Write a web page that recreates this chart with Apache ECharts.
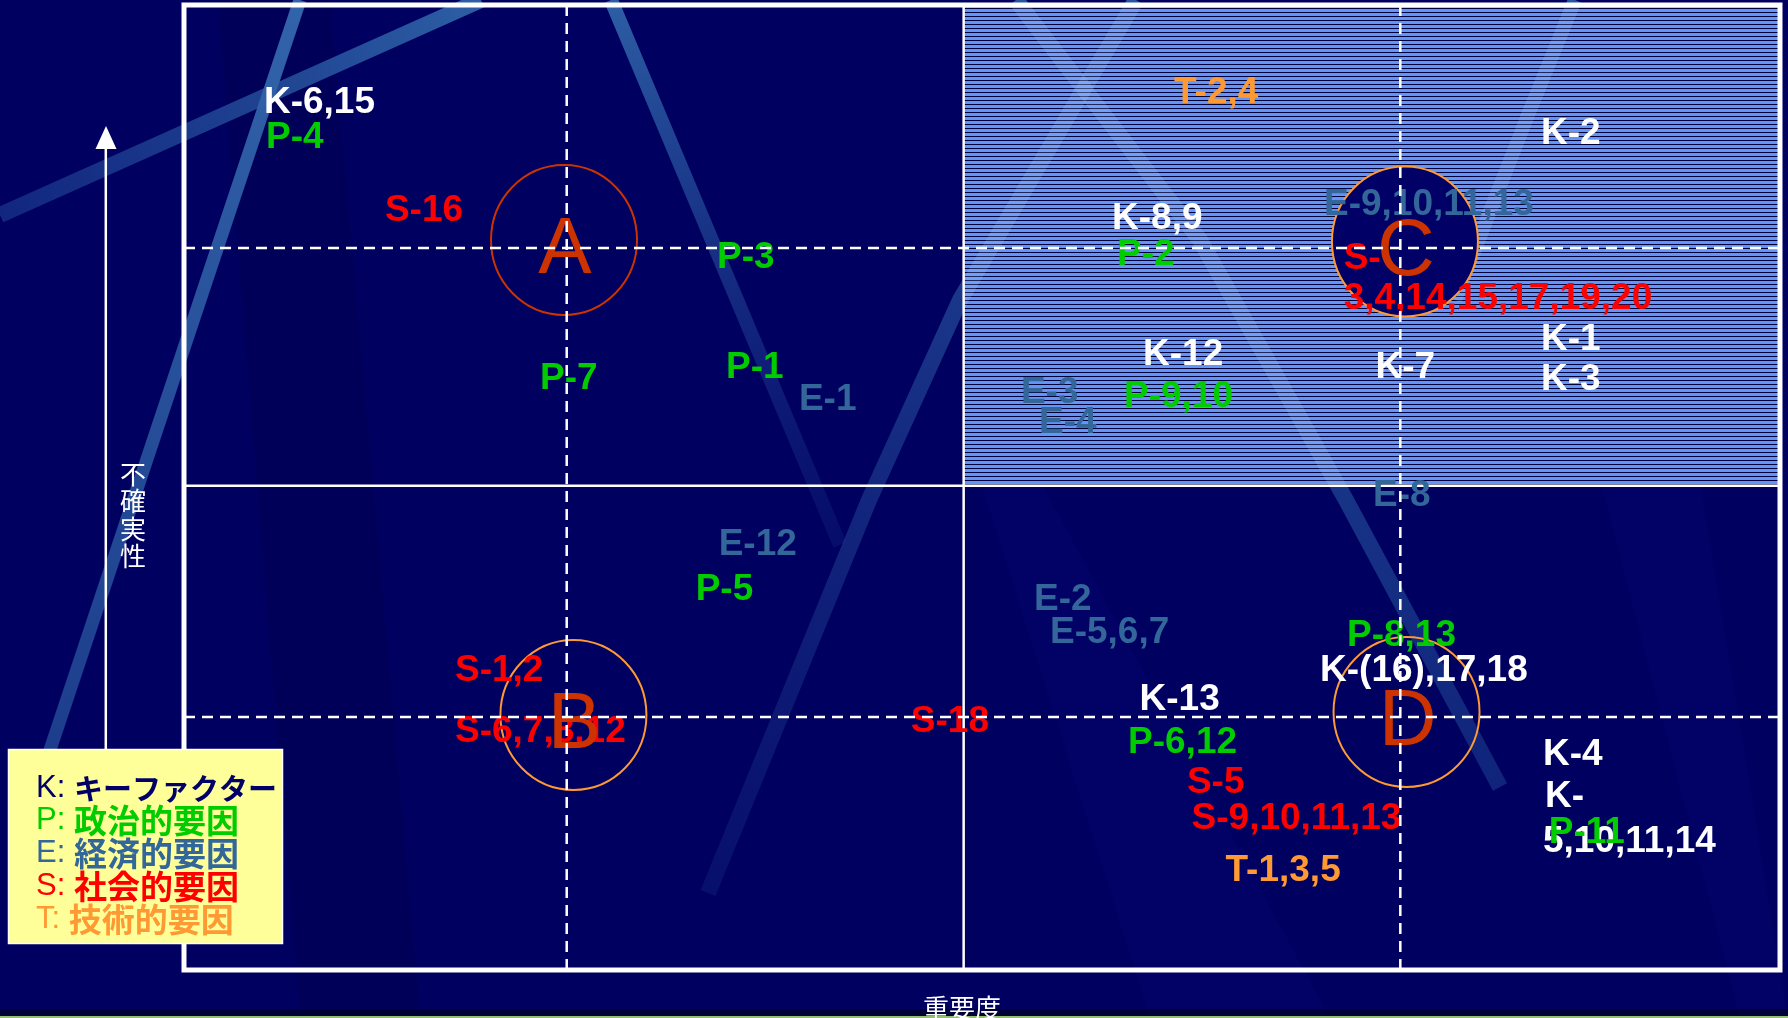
<!DOCTYPE html>
<html><head><meta charset="utf-8">
<script src="https://cdn.jsdelivr.net/npm/echarts/dist/echarts.min.js"></script>
<style>html,body{margin:0;padding:0;background:#000060;overflow:hidden}#c{width:1788px;height:1018px}</style>
</head><body><div id="c"></div>
<script>
// ---------------- data ----------------
const xAxisName = '重要度';
const yAxisName = '不確実性';
const categories = ['K', 'P', 'E', 'S', 'T'];
const categoryNames = ['キーファクター', '政治的要因', '経済的要因', '社会的要因', '技術的要因'];

// [重要度, 不確実性, label]
const kFactors = [
  [5.01, 90.16, 'K-6,15'], [58.15, 78.13, 'K-8,9'], [85.03, 86.94, 'K-2'],
  [60.09, 64.04, 'K-12'], [74.66, 62.69, 'K-7'], [85.03, 65.60, 'K-1'], [85.03, 61.45, 'K-3'],
  [71.18, 31.35, 'K-(16),17,18'], [59.87, 28.29, 'K-13'], [85.15, 22.64, 'K-4'],
  [85.28, 18.29, 'K-'], [85.15, 13.63, '5,10,11,14']
];
const pFactors = [
  [5.14, 86.53, 'P-4'], [33.40, 74.09, 'P-3'], [22.31, 61.55, 'P-7'], [33.96, 62.69, 'P-1'],
  [58.46, 74.40, 'P-2'], [58.90, 59.69, 'P-9,10'], [32.06, 39.69, 'P-5'],
  [72.87, 34.97, 'P-8,13'], [59.15, 23.83, 'P-6,12'], [85.51, 14.51, 'P-11']
];
const eFactors = [
  [38.53, 59.38, 'E-1'], [71.43, 79.64, 'E-9,10,11,13'], [52.44, 60.10, 'E-3'], [53.57, 56.99, 'E-4'],
  [74.50, 49.43, 'E-8'], [33.50, 44.40, 'E-12'], [53.26, 38.68, 'E-2'], [54.26, 35.23, 'E-5,6,7']
];
const sFactors = [
  [12.59, 79.02, 'S-16'], [72.66, 73.99, 'S-'], [72.66, 69.84, '3,4,14,15,17,19,20'],
  [16.98, 31.30, 'S-1,2'], [16.98, 24.97, 'S-6,7,8,12'], [45.54, 26.06, 'S-18'],
  [62.84, 19.69, 'S-5'], [63.13, 15.96, 'S-9,10,11,13']
];
const tFactors = [
  [62.03, 91.19, 'T-2,4'], [65.26, 10.62, 'T-1,3,5']
];
// scenario clusters: [重要度, 不確実性, name]
const clusters = [
  [23.81, 75.65, 'A'], [24.40, 26.42, 'B'], [76.50, 75.49, 'C'], [76.60, 26.74, 'D']
];
// quadrant dividers and cluster guides
const dividerX = [48.85];
const dividerY = [50.18];
const guideX = [23.98, 76.21];
const guideY = [74.82, 26.22];
// highlighted quadrant [x0, y0, x1, y1]
const highlightQuadrant = [[48.85, 50.18, 100, 100]];
const axisRange = [0, 100];

// ---------------- styles ----------------
const catColors = ['#ffffff', '#00cc00', '#336699', '#ff0000', '#ff9933'];
const legendColors = ['#000066', '#00cc00', '#336699', '#ff0000', '#ff9933'];
const LABEL_FONT = '"Liberation Sans", Arial, sans-serif';
const CJK_FONT = '"Noto Sans CJK JP", "Noto Sans", sans-serif';

// decorative background streaks (pixel space)
const bands = [
  {pts: [[0, 215], [481, 0]], w: 16, c0: 'rgba(25,55,140,0.7)', c1: 'rgba(45,95,165,1)'},
  {pts: [[300, 0], [40, 780]], w: 13, c0: 'rgba(50,100,170,1)', c1: 'rgba(35,75,150,0.8)'},
  {pts: [[611, 0], [840, 545]], w: 14, c0: 'rgba(45,95,165,1)', c1: 'rgba(20,40,130,0.3)'},
  {pts: [[708, 893], [869, 500], [960, 300], [1136, 0]], w: 16, c0: 'rgba(15,30,120,0.5)', c1: 'rgba(40,85,160,1)'},
  {pts: [[1016, 0], [1200, 240], [1346, 500], [1500, 787]], w: 16, c0: 'rgba(40,85,160,1)', c1: 'rgba(25,60,140,0.6)'},
  {pts: [[1575, 0], [1530, 110], [1455, 300]], w: 14, c0: 'rgba(40,85,160,1)', c1: 'rgba(40,85,160,0.8)'}
];

function bandPolygon(pts, w) {
  const L = [], R = [], n = pts.length;
  for (let i = 0; i < n; i++) {
    let nx = 0, ny = 0;
    if (i > 0) { const dx = pts[i][0] - pts[i-1][0], dy = pts[i][1] - pts[i-1][1], l = Math.hypot(dx, dy); nx += -dy / l; ny += dx / l; }
    if (i < n - 1) { const dx = pts[i+1][0] - pts[i][0], dy = pts[i+1][1] - pts[i][1], l = Math.hypot(dx, dy); nx += -dy / l; ny += dx / l; }
    const l = Math.hypot(nx, ny); nx = nx / l * w / 2; ny = ny / l * w / 2;
    L.push([pts[i][0] + nx, pts[i][1] + ny]); R.push([pts[i][0] - nx, pts[i][1] - ny]);
  }
  return L.concat(R.reverse());
}
function clipPoly(poly, x0, y0, x1, y1) {
  const planes = [
    [p => p[0] >= x0, (a, b) => { const t = (x0 - a[0]) / (b[0] - a[0]); return [x0, a[1] + t * (b[1] - a[1])]; }],
    [p => p[0] <= x1, (a, b) => { const t = (x1 - a[0]) / (b[0] - a[0]); return [x1, a[1] + t * (b[1] - a[1])]; }],
    [p => p[1] >= y0, (a, b) => { const t = (y0 - a[1]) / (b[1] - a[1]); return [a[0] + t * (b[0] - a[0]), y0]; }],
    [p => p[1] <= y1, (a, b) => { const t = (y1 - a[1]) / (b[1] - a[1]); return [a[0] + t * (b[0] - a[0]), y1]; }]
  ];
  let out = poly;
  for (const [inside, inter] of planes) {
    const inp = out; out = [];
    for (let i = 0; i < inp.length; i++) {
      const cur = inp[i], prev = inp[(i + inp.length - 1) % inp.length];
      if (inside(cur)) { if (!inside(prev)) out.push(inter(prev, cur)); out.push(cur); }
      else if (inside(prev)) out.push(inter(prev, cur));
    }
    if (!out.length) break;
  }
  return out;
}

const bgGraphics = [];
bgGraphics.push({type: 'polygon', z: 0, silent: true, shape: {points: [[218, 0], [330, 0], [420, 1018], [300, 1018]]}, style: {fill: 'rgba(0,0,30,0.12)'}});
bgGraphics.push({type: 'polygon', z: 0, silent: true, shape: {points: [[980, 480], [1040, 480], [1330, 1018], [1150, 1018]]}, style: {fill: 'rgba(20,20,150,0.12)'}});
bgGraphics.push({type: 'polygon', z: 0, silent: true, shape: {points: [[1600, 480], [1700, 480], [1788, 1018], [1740, 1018]]}, style: {fill: 'rgba(20,20,150,0.12)'}});
bands.forEach(b => {
  const p0 = b.pts[0], p1 = b.pts[b.pts.length - 1];
  bgGraphics.push({
    type: 'polygon', z: 0, silent: true,
    shape: {points: bandPolygon(b.pts, b.w)},
    style: {fill: {type: 'linear', global: true, x: p0[0], y: p0[1], x2: p1[0], y2: p1[1],
      colorStops: [{offset: 0, color: b.c0}, {offset: 1, color: b.c1}]}}
  });
});
bgGraphics.push({type: 'rect', z: 0, silent: true, shape: {x: 0, y: 1009, width: 1788, height: 8}, style: {fill: 'rgba(0,0,40,0.7)'}});
bgGraphics.push({type: 'rect', z: 0, silent: true, shape: {x: 0, y: 1016, width: 1788, height: 2}, style: {fill: '#90c070'}});
// uncertainty arrow
bgGraphics.push({type: 'line', z: 1, silent: true, shape: {x1: 105.8, y1: 760, x2: 105.8, y2: 140}, style: {stroke: '#ffffff', lineWidth: 2.5}});
bgGraphics.push({type: 'polygon', z: 1, silent: true, shape: {points: [[95.5, 149], [116.5, 149], [106, 126]]}, style: {fill: '#ffffff'}});
// legend box
bgGraphics.push({type: 'rect', z: 8, silent: true, shape: {x: 8.5, y: 749.5, width: 274, height: 194}, style: {fill: '#ffff99', stroke: '#ffffff', lineWidth: 1.5}});

// ---------------- series ----------------
function renderQuadrant(params, api) {
  const a = api.coord([api.value(0), api.value(3)]);
  const b = api.coord([api.value(2), api.value(1)]);
  const x = Math.round(a[0]), y = Math.round(a[1]), w = Math.round(b[0]) - x, h = Math.round(b[1]) - y;
  const children = [{type: 'rect', shape: {x, y, width: w, height: h}, style: {fill: '#6395f8'}}];
  for (let yy = y + 3; yy < y + h; yy += 4) {
    children.push({type: 'rect', shape: {x, y: yy, width: w, height: 1}, style: {fill: '#000038'}});
  }
  bands.forEach(bd => {
    const poly = clipPoly(bandPolygon(bd.pts, bd.w), x, y, x + w, y + h);
    if (poly.length > 2) children.push({type: 'polygon', shape: {points: poly}, style: {fill: 'rgba(175,210,255,0.18)'}});
  });
  return {type: 'group', children};
}
function renderDivider(dashed) {
  return function (params, api) {
    const cs = params.coordSys;
    const dir = api.value(0), v = api.value(1);
    const style = {stroke: '#ffffff', lineWidth: 2.5, lineDash: dashed ? [11, 7] : null};
    if (dir === 0) {
      const px = api.coord([v, axisRange[0]])[0];
      return {type: 'line', shape: {x1: px, y1: cs.y, x2: px, y2: cs.y + cs.height}, style};
    }
    const py = api.coord([axisRange[0], v])[1];
    return {type: 'line', shape: {x1: cs.x, y1: py, x2: cs.x + cs.width, y2: py}, style};
  };
}
function renderFrame(params, api) {
  const a = api.coord([api.value(0), api.value(3)]);
  const b = api.coord([api.value(2), api.value(1)]);
  return {type: 'rect', shape: {x: a[0], y: a[1], width: b[0] - a[0], height: b[1] - a[1]},
    style: {fill: null, stroke: '#ffffff', lineWidth: 5}};
}

const factorSets = [kFactors, pFactors, eFactors, sFactors, tFactors];
const textSeries = categories.map((cat, i) => ({
  name: cat, type: 'scatter', z: 4, silent: true, symbolSize: 0, animation: false,
  itemStyle: {opacity: 1},
  data: factorSets[i].map(d => ({value: [d[0], d[1]], name: d[2]})),
  label: {show: true, position: 'right', distance: 0, offset: [0, 3], formatter: p => p.name, opacity: 1,
    color: catColors[i], fontFamily: LABEL_FONT, fontSize: 37, fontWeight: 'bold'},
  emphasis: {disabled: true}
}));

const clusterStroke = {A: '#cc3300', B: '#ff9933', C: '#ff9933', D: '#ff9933'};
const clusterFill = {A: 'rgba(0,0,0,0)', B: 'rgba(0,0,0,0)', C: '#000066', D: 'rgba(0,0,0,0)'};

const rich = {};
categories.forEach((c, i) => {
  rich['l' + i] = {color: legendColors[i], fontFamily: LABEL_FONT, fontSize: 31, fontWeight: 'normal', lineHeight: 32.5};
  rich['n' + i] = {color: legendColors[i], fontFamily: CJK_FONT, fontSize: i === 0 ? 29 : 33, fontWeight: 'bold', lineHeight: 32.5};
});

const option = {
  backgroundColor: '#000060',
  animation: false,
  grid: {left: 184, top: 5, width: 1596, height: 965, show: false, containLabel: false, outerBoundsMode: 'none'},
  xAxis: {
    type: 'value', min: axisRange[0], max: axisRange[1],
    axisLine: {show: false}, axisTick: {show: false}, axisLabel: {show: false}, splitLine: {show: false},
    name: xAxisName, nameLocation: 'middle', nameGap: 25,
    nameTextStyle: {color: '#ffffff', fontSize: 26, fontFamily: CJK_FONT, padding: [0, 40, 0, 0]}
  },
  yAxis: {
    type: 'value', min: axisRange[0], max: axisRange[1],
    axisLine: {show: false}, axisTick: {show: false}, axisLabel: {show: false}, splitLine: {show: false},
    name: '\n\n' + yAxisName.split('').join('\n'), nameLocation: 'middle', nameRotate: 0, nameGap: 51,
    nameTextStyle: {color: '#ffffff', fontSize: 26, lineHeight: 27.5, fontFamily: CJK_FONT,
      align: 'center', verticalAlign: 'middle'}
  },
  legend: {
    show: true, orient: 'vertical', left: 31, top: 773, padding: 0, itemGap: 0,
    itemWidth: 0, itemHeight: 0, icon: 'none', selectedMode: false, z: 9,
    data: categories,
    formatter: name => { const i = categories.indexOf(name); return `{l${i}|${name}: }{n${i}|${categoryNames[i]}}`; },
    textStyle: {rich}
  },
  graphic: bgGraphics,
  series: [
    {type: 'custom', name: 'quadrant', z: 1, silent: true, renderItem: renderQuadrant, data: highlightQuadrant},
    {type: 'custom', name: 'divider', z: 2, silent: true, renderItem: renderDivider(false),
      data: dividerX.map(v => [0, v]).concat(dividerY.map(v => [1, v]))},
    {type: 'scatter', name: 'cluster', z: 3, silent: true, animation: false,
      symbol: 'circle', symbolSize: [146, 150],
      data: clusters.map(c => ({value: [c[0], c[1]], name: c[2],
        itemStyle: {color: clusterFill[c[2]], borderColor: clusterStroke[c[2]], borderWidth: 2, opacity: 1}})),
      label: {show: false}, emphasis: {disabled: true}},
    ...textSeries,
    {type: 'scatter', name: 'clusterLabel', z: 5, silent: true, animation: false, symbolSize: 0,
      itemStyle: {opacity: 1},
      data: clusters.map(c => ({value: [c[0], c[1]], name: c[2]})),
      label: {show: true, position: 'inside', formatter: p => p.name, color: '#cc3300', opacity: 1,
        fontFamily: '"Liberation Sans Narrow", "Arial Narrow", "Liberation Sans", sans-serif',
        fontSize: 80, offset: [1, 11]},
      emphasis: {disabled: true}},
    {type: 'custom', name: 'guide', z: 6, silent: true, renderItem: renderDivider(true),
      data: guideX.map(v => [0, v]).concat(guideY.map(v => [1, v]))},
    {type: 'custom', name: 'frame', z: 7, silent: true, renderItem: renderFrame,
      data: [[axisRange[0], axisRange[0], axisRange[1], axisRange[1]]]}
  ]
};

const chart = echarts.init(document.getElementById('c'), null, {renderer: 'canvas', width: 1788, height: 1018});
chart.setOption(option);
</script>
</body></html>
